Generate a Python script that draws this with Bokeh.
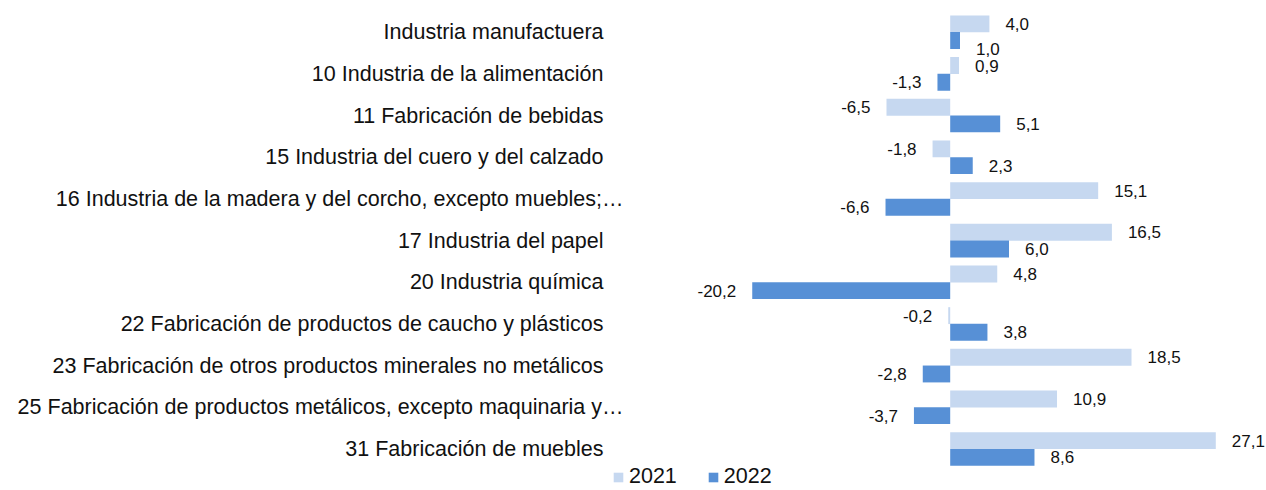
from bokeh.plotting import figure
from bokeh.models import ColumnDataSource, Range1d, Legend, LegendItem
from bokeh.core.properties import value
from bokeh.embed import file_html
from bokeh.resources import INLINE

categories = [
    "Industria manufactuera",
    "10 Industria de la alimentación",
    "11 Fabricación de bebidas",
    "15 Industria del cuero y del calzado",
    "16 Industria de la madera y del corcho, excepto muebles;…",
    "17 Industria del papel",
    "20 Industria química",
    "22 Fabricación de productos de caucho y plásticos",
    "23 Fabricación de otros productos minerales no metálicos",
    "25 Fabricación de productos metálicos, excepto maquinaria y…",
    "31 Fabricación de muebles",
]
v2021 = [4.0, 0.9, -6.5, -1.8, 15.1, 16.5, 4.8, -0.2, 18.5, 10.9, 27.1]
v2022 = [1.0, -1.3, 5.1, 2.3, -6.6, 6.0, -20.2, 3.8, -2.8, -3.7, 8.6]
series = ["2021", "2022"]
colors = ["#c6d8f0", "#5790d6"]

FONT = "Liberation Sans"
W, H = 1266, 490
PX_PER_UNIT = 9.8
ZERO_PX = 949.7
ROW_PX = 41.68
ROW0_PX = 31.7

x_start = -ZERO_PX / PX_PER_UNIT
x_end = x_start + W / PX_PER_UNIT
y_top = -ROW0_PX / ROW_PX
y_bot = (H - ROW0_PX) / ROW_PX

p = figure(width=W, height=H, output_backend="svg", toolbar_location=None,
           x_range=Range1d(x_start, x_end), y_range=Range1d(y_bot, y_top),
           x_axis_type=None, y_axis_type=None, min_border=0)
p.outline_line_color = None
p.xgrid.visible = False
p.ygrid.visible = False

rows = list(range(len(categories)))

# labels of the second series that would collide with the first one get nudged down
def nudge(i):
    a, b = v2021[i], v2022[i]
    same_side = (a >= 0) == (b >= 0)
    return 8 if same_side and abs(a - b) * PX_PER_UNIT < 50 else 0

renderers = []
for k, (vals, col) in enumerate(zip([v2021, v2022], colors)):
    dy = -0.2 if k == 0 else 0.2
    ys = [r + dy for r in rows]
    src = ColumnDataSource(dict(y=ys, right=vals, left=[0] * len(vals)))
    r = p.hbar(y="y", left="left", right="right", height=0.405, source=src,
               fill_color=col, line_color=None)
    renderers.append(r)
    offs = [nudge(i) if k == 1 else 0 for i in rows]
    pos = [(v, y, o) for v, y, o in zip(vals, ys, offs) if v >= 0]
    neg = [(v, y, o) for v, y, o in zip(vals, ys, offs) if v < 0]
    for grp, off, align in [(pos, 16, "left"), (neg, -16, "right")]:
        s = ColumnDataSource(dict(x=[g[0] for g in grp], y=[g[1] for g in grp],
                                  dy=[g[2] for g in grp],
                                  t=[f"{g[0]:.1f}".replace(".", ",") for g in grp]))
        p.text(x="x", y="y", text="t", source=s, x_offset=off, y_offset="dy",
               text_align=align, text_baseline="middle", text_font=value(FONT),
               text_font_size="17px", text_color="#111111")

# category labels
label_px = [603 + (20 if c.endswith("…") else 0) for c in categories]
lx = [x_start + px / PX_PER_UNIT for px in label_px]
cs = ColumnDataSource(dict(x=lx, y=rows, t=categories))
p.text(x="x", y="y", text="t", source=cs, text_align="right", text_baseline="middle",
       text_font=value(FONT), text_font_size="21.5px", text_color="#111111")

legend = Legend(items=[LegendItem(label=s, renderers=[r]) for s, r in zip(series, renderers)],
                orientation="horizontal", location=(612, 1), padding=0, margin=0,
                border_line_color=None, background_fill_alpha=0,
                glyph_width=12, glyph_height=12, label_standoff=5, spacing=30,
                label_text_font=FONT, label_text_font_size="21.5px", label_text_color="#111111")
p.add_layout(legend, "center")

open("out.html", "w").write(file_html(p, INLINE))
